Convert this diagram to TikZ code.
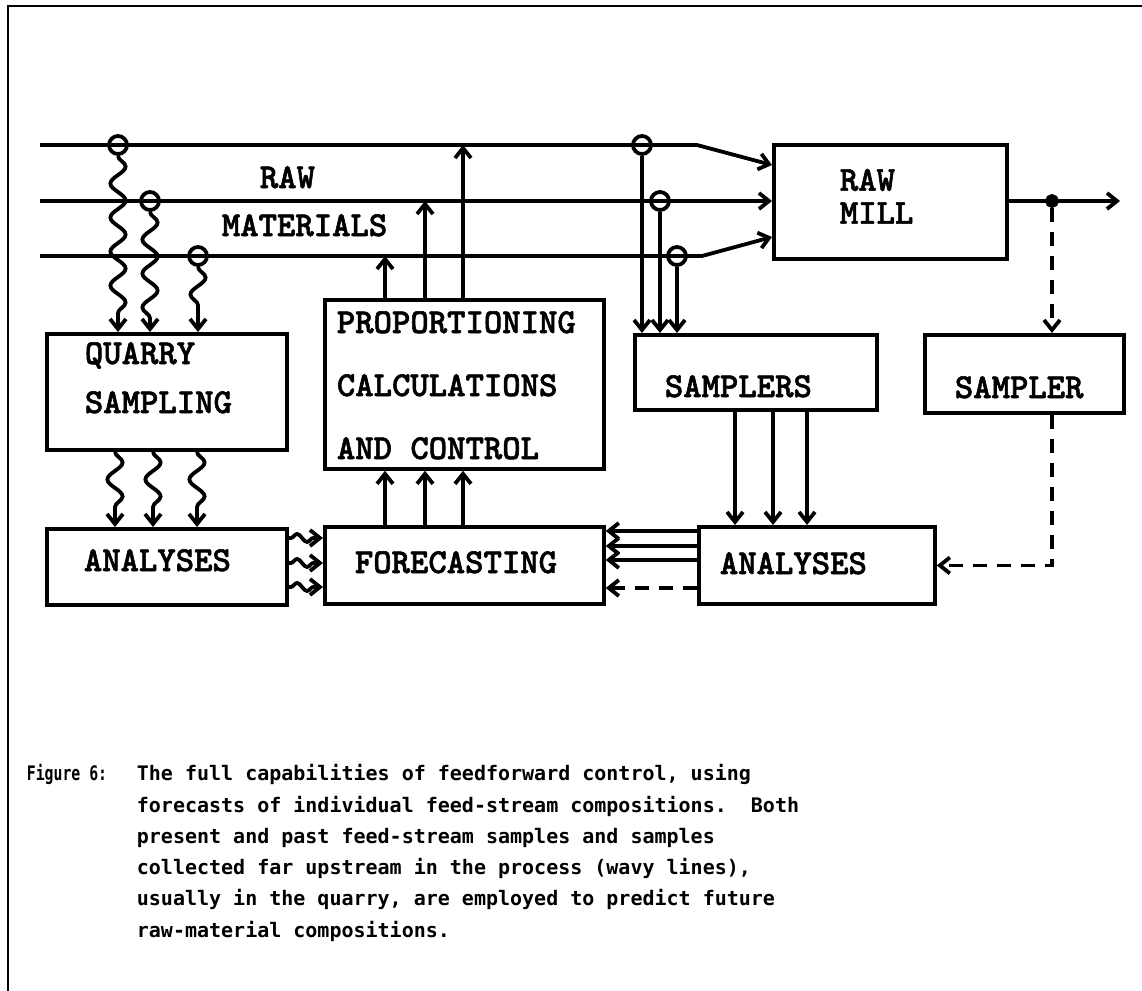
\documentclass[tikz,border=0pt]{standalone}
\usepackage{fontspec}
\usetikzlibrary{arrows.meta,decorations.pathmorphing}
\newfontfamily\capfont{DejaVu Sans Mono}
\newfontfamily\boxfont{lmmonolt10-bold.otf}[FakeBold=1.6]
\begin{document}
\begin{tikzpicture}[x=0.5pt,y=-0.5pt, line width=1.9pt,
  box/.style={draw, rectangle, inner sep=0pt, anchor=north west},
  lbl/.style={anchor=base west, inner sep=0pt, font=\boxfont\fontsize{17.5}{15}\selectfont},
  captxt/.style={anchor=base west, inner sep=0pt, font=\capfont\bfseries\fontsize{10}{12}\selectfont},
  arr/.style={-{Straight Barb[length=5pt,width=8pt]}},
  wavyv/.style={decorate, decoration={snake, amplitude=3.8pt, segment length=17pt, post length=6pt}},
  wavyh/.style={decorate, decoration={snake, amplitude=2pt, segment length=10pt, pre length=1pt, post length=4pt}},
  dsh/.style={dash pattern=on 7pt off 5pt},
  tap/.style={circle, draw, minimum size=9pt, inner sep=0pt},
  dot/.style={circle, draw, fill, minimum size=5pt, inner sep=0pt}]
\useasboundingbox (0,0) rectangle (1142,991);
% frame
\draw[line width=1.2pt] (1142,6) -- (8,6) -- (8,991);

% boxes
\node[box, minimum width=120pt, minimum height=58pt] (quarry) at (45,332) {};
\node[box, minimum width=120pt, minimum height=38pt] (anaL) at (45,527) {};
\node[box, minimum width=139.5pt, minimum height=84.5pt] (prop) at (323,298) {};
\node[box, minimum width=139.5pt, minimum height=38.5pt] (fore) at (323,525) {};
\node[box, minimum width=121pt, minimum height=37.5pt] (samplers) at (633,333) {};
\node[box, minimum width=118pt, minimum height=38.5pt] (anaR) at (697,525) {};
\node[box, minimum width=99.5pt, minimum height=39pt] (sampler) at (923,333) {};
\node[box, minimum width=116.5pt, minimum height=57pt] (mill) at (772,143) {};

% labels
\node[lbl] (tRaw) at (258,188) {RAW};
\node[lbl] (tMat) at (220,236) {MATERIALS};
\node[lbl, font=\boxfont\fontsize{17.5}{16.5}\selectfont, align=left, anchor=north west] (tMill) at (838,167) {RAW\\MILL};
\node[lbl] (tQ1) at (83,364) {QUARRY};
\node[lbl] (tQ2) at (83,413) {SAMPLING};
\node[lbl] (tA1) at (82,571) {ANALYSES};
\node[lbl] (tP1) at (335,333) {PROPORTIONING};
\node[lbl] (tP2) at (335,396) {CALCULATIONS};
\node[lbl] (tP3) at (335,459) {AND CONTROL};
\node[lbl] (tF) at (353,573) {FORECASTING};
\node[lbl] (tS) at (663,397) {SAMPLERS};
\node[lbl] (tA2) at (718,574) {ANALYSES};
\node[lbl] (tS2) at (953,398) {SAMPLER};

% stream lines
\coordinate (s1) at (40,145);
\coordinate (s2) at (40,201);
\coordinate (s3) at (40,256);
\coordinate (b1) at (697,145);
\coordinate (b3) at (702,256);
\coordinate (m1) at ([yshift=-11pt]mill.north west);
\coordinate (m3) at ([yshift=-47pt]mill.north west);
\draw[arr] (s1) -- (b1) -- (m1);
\draw[arr] (s2) -- (s2 -| mill.west);
\draw[arr] (s3) -- (b3) -- (m3);

% taps
\node[tap] (c1) at (118,145) {};
\node[tap] (c2) at (150,201) {};
\node[tap] (c3) at (198,256) {};
\node[tap] (d1) at (642,145) {};
\node[tap] (d2) at (660,201) {};
\node[tap] (d3) at (677,256) {};

% wavy sampling to quarry
\draw[arr, wavyv] (c1.south) -- (c1.south |- quarry.north);
\draw[arr, wavyv] (c2.south) -- (c2.south |- quarry.north);
\draw[arr, wavyv] (c3.south) -- (c3.south |- quarry.north);

% quarry -> analyses (wavy)
\coordinate (qa1) at ([xshift=35pt]quarry.south west);
\coordinate (qa2) at ([xshift=54pt]quarry.south west);
\coordinate (qa3) at ([xshift=76pt]quarry.south west);
\draw[arr, wavyv] (qa1) -- (qa1 |- anaL.north);
\draw[arr, wavyv] (qa2) -- (qa2 |- anaL.north);
\draw[arr, wavyv] (qa3) -- (qa3 |- anaL.north);

% analyses -> forecasting (wavy)
\coordinate (w1) at ([yshift=-5.5pt]anaL.north east);
\coordinate (w2) at ([yshift=-18pt]anaL.north east);
\coordinate (w3) at ([yshift=-30pt]anaL.north east);
\draw[arr, wavyh] (w1) -- (w1 -| fore.west);
\draw[arr, wavyh] (w2) -- (w2 -| fore.west);
\draw[arr, wavyh] (w3) -- (w3 -| fore.west);

% forecasting -> proportioning
\coordinate (f1) at ([xshift=31pt]fore.north west);
\coordinate (f2) at ([xshift=51pt]fore.north west);
\coordinate (f3) at ([xshift=70pt]fore.north west);
\draw[arr] (f1) -- (f1 |- prop.south);
\draw[arr] (f2) -- (f2 |- prop.south);
\draw[arr] (f3) -- (f3 |- prop.south);

% proportioning -> streams
\coordinate (p1) at ([xshift=31pt]prop.north west);
\coordinate (p2) at ([xshift=51pt]prop.north west);
\coordinate (p3) at ([xshift=70pt]prop.north west);
\draw[arr] (p1) -- (p1 |- s3);
\draw[arr] (p2) -- (p2 |- s2);
\draw[arr] (p3) -- (p3 |- s1);

% streams -> samplers
\draw[arr] (d1.south) -- (d1.south |- samplers.north);
\draw[arr] (d2.south) -- (d2.south |- samplers.north);
\draw[arr] (d3.south) -- (d3.south |- samplers.north);

% samplers -> analyses
\coordinate (q1) at ([xshift=51pt]samplers.south west);
\coordinate (q2) at ([xshift=70pt]samplers.south west);
\coordinate (q3) at ([xshift=87pt]samplers.south west);
\draw[arr] (q1) -- (q1 |- anaR.north);
\draw[arr] (q2) -- (q2 |- anaR.north);
\draw[arr] (q3) -- (q3 |- anaR.north);

% analyses -> forecasting
\coordinate (r1) at ([yshift=-3pt]anaR.north west);
\coordinate (r2) at ([yshift=-10.5pt]anaR.north west);
\coordinate (r3) at ([yshift=-17.5pt]anaR.north west);
\coordinate (r4) at ([yshift=-31.5pt]anaR.north west);
\draw[arr] (r1) -- (r1 -| fore.east);
\draw[arr] (r2) -- (r2 -| fore.east);
\draw[arr] (r3) -- (r3 -| fore.east);
\draw[arr, dsh] (r4) -- (r4 -| fore.east);

% mill output
\coordinate (out) at (1120,201);
\draw[arr] (mill.east |- out) -- (out);
\node[dot] (j) at (1052,201) {};
\draw[arr, dsh] (j.south) -- (j |- sampler.north);
\draw[arr, dsh] (j |- sampler.south) -- (j |- anaR.east) -- (anaR.east);

% caption
\node[captxt] (fig) at (25,780) {\scalebox{0.74}[1]{Figure 6:}};
\node[captxt] (l1) at (135,780) {The full capabilities of feedforward control, using};
\node[captxt] (l2) at (135,812) {forecasts of individual feed-stream compositions.\ \ Both};
\node[captxt] (l3) at (135,843) {present and past feed-stream samples and samples};
\node[captxt] (l4) at (135,874) {collected far upstream in the process (wavy lines),};
\node[captxt] (l5) at (135,905) {usually in the quarry, are employed to predict future};
\node[captxt] (l6) at (135,937) {raw-material compositions.};
\end{tikzpicture}
\end{document}
